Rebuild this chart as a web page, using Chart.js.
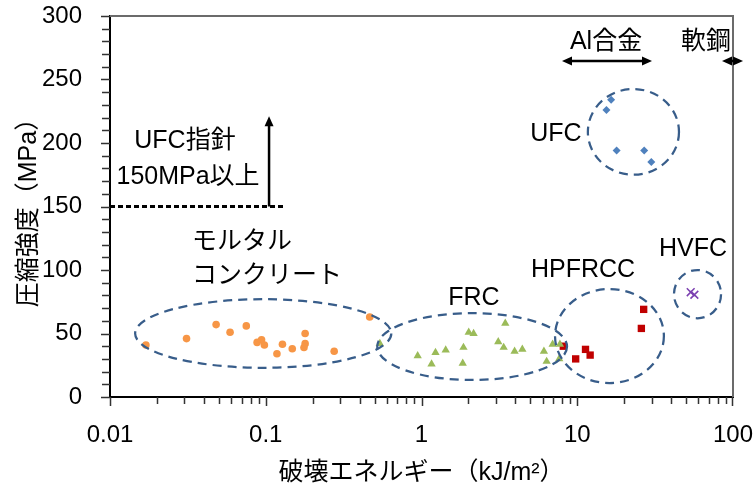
<!DOCTYPE html>
<html>
<head>
<meta charset="utf-8">
<script src="https://cdn.jsdelivr.net/npm/chart.js@4/dist/chart.umd.min.js"></script>
<style>
  html, body { margin: 0; padding: 0; background: #fff; }
  canvas { display: block; }
</style>
</head>
<body>
<canvas id="c" width="756" height="488"></canvas>
<script>
// Fracture energy (kJ/m²) vs compressive strength (MPa) for each material group
const seriesNames = ['モルタル・コンクリート', 'FRC', 'HPFRCC', 'UFC', 'HVFC'];

const mortarEnergy   = [0.017, 0.031, 0.048, 0.059, 0.075, 0.088, 0.094, 0.098, 0.118, 0.128, 0.148, 0.179, 0.179, 0.176, 0.275, 0.465];
const mortarStrength = [41, 46, 57, 51, 56, 43, 45, 41, 34, 41.5, 38, 50, 42, 39, 36, 63];

const frcEnergy   = [0.54, 0.945, 1.16, 1.23, 1.43, 1.86, 1.84, 2.01, 2.16, 3.45, 3.11, 3.37, 3.96, 4.44, 6.11, 6.36, 6.95, 7.74, 7.66];
const frcStrength = [42, 32.5, 26, 35, 37, 39, 26.5, 51, 50, 58, 43.5, 39, 36, 37.5, 36, 28, 41.5, 41.5, 30];

const hpfrccEnergy   = [8.14, 9.77, 11.3, 12.1, 26.7, 25.8];
const hpfrccStrength = [40, 30, 37.5, 33, 69, 54];

const ufcEnergy   = [16.5, 15.4, 17.9, 26.9, 29.9];
const ufcStrength = [234, 226, 194, 194, 185];

const hvfcEnergy   = [53.5, 56.5];
const hvfcStrength = [82.5, 80.5];

// Axis ticks
const xTickValues = [0.01, 0.1, 1, 10, 100];
const yTickValues = [0, 50, 100, 150, 200, 250, 300];

// UFC guideline threshold (MPa)
const ufcGuideline = 150;

const toPoints = (xs, ys) => xs.map((x, i) => ({ x: x, y: ys[i] }));

const FONT = "'Liberation Sans', 'Noto Sans CJK JP', sans-serif";
const GROUP_COLOR = '#385D8A';

// Group outlines, given as data-space bounds [xMin, xMax, yMin, yMax]
const groupOutlines = [
  [0.0145, 0.64, 23, 77],
  [0.52, 8.6, 13.4, 66],
  [7.2, 36, 11, 85],
  [41.8, 83.8, 62, 100],
  [11.7, 45, 175, 242.5]
];

// Text annotations: [text, x, y, align]
const annotations = [
  ['UFC指針', 0.0303, 201.6, 'center'],
  ['150MPa以上', 0.0317, 173.2, 'center'],
  ['モルタル', 0.0336, 122, 'left'],
  ['コンクリート', 0.0336, 95.3, 'left'],
  ['FRC', 2.17, 78, 'center'],
  ['HPFRCC', 10.9, 100, 'center'],
  ['HVFC', 55.3, 116.5, 'center'],
  ['UFC', 7.3, 207, 'center'],
  ['Al合金', 15.3, 279.5, 'center'],
  ['軟鋼', 67.1, 279.5, 'center']
];

// Range arrows along x at a given y: [xFrom, xTo, y]
const rangeArrows = [
  [7.98, 30.2, 264.6],
  [85, 116, 264.6]
];

function arrowHead(ctx, x, y, angle, len, half) {
  ctx.save();
  ctx.translate(x, y);
  ctx.rotate(angle);
  ctx.beginPath();
  ctx.moveTo(0, 0);
  ctx.lineTo(-len, -half);
  ctx.lineTo(-len, half);
  ctx.closePath();
  ctx.fill();
  ctx.restore();
}

const decorations = {
  id: 'decorations',
  afterDatasetsDraw(chart) {
    const { ctx, chartArea: a, scales: { x, y } } = chart;
    ctx.save();

    // frame on top and right
    ctx.strokeStyle = '#6b6b6b';
    ctx.lineWidth = 2;
    ctx.beginPath();
    ctx.moveTo(a.left, a.top);
    ctx.lineTo(a.right, a.top);
    ctx.lineTo(a.right, a.bottom);
    ctx.stroke();

    // tick marks (outside)
    ctx.strokeStyle = '#333';
    ctx.lineWidth = 1.5;
    ctx.beginPath();
    for (let v = 0; v <= 300; v += 10) {
      const py = Math.round(y.getPixelForValue(v)) + 0.5;
      const len = v % 50 === 0 ? 9 : 8;
      ctx.moveTo(a.left - len, py);
      ctx.lineTo(a.left, py);
    }
    for (let d = 0.01; d < 100; d *= 10) {
      for (let k = 1; k <= 9; k++) {
        const px = Math.round(x.getPixelForValue(d * k)) + 0.5;
        ctx.moveTo(px, a.bottom);
        ctx.lineTo(px, a.bottom + (k === 1 ? 9 : 7));
      }
    }
    const pr = Math.round(x.getPixelForValue(100)) - 0.5;
    ctx.moveTo(pr, a.bottom);
    ctx.lineTo(pr, a.bottom + 9);
    ctx.stroke();

    // group outlines
    ctx.strokeStyle = GROUP_COLOR;
    ctx.lineWidth = 2.25;
    ctx.setLineDash([9, 6]);
    groupOutlines.forEach(([x0, x1, y0, y1]) => {
      const l = x.getPixelForValue(x0), r = x.getPixelForValue(x1);
      const t = y.getPixelForValue(y1), b = y.getPixelForValue(y0);
      ctx.beginPath();
      ctx.ellipse((l + r) / 2, (t + b) / 2, (r - l) / 2, (b - t) / 2, 0, 0, Math.PI * 2);
      ctx.stroke();
    });

    // UFC guideline: dashed line with upward arrow
    const gy = y.getPixelForValue(ufcGuideline);
    ctx.strokeStyle = '#000';
    ctx.fillStyle = '#000';
    ctx.lineWidth = 3;
    ctx.setLineDash([5, 3]);
    ctx.beginPath();
    ctx.moveTo(a.left, gy);
    ctx.lineTo(x.getPixelForValue(0.133), gy);
    ctx.stroke();
    ctx.setLineDash([]);
    ctx.lineWidth = 2.5;
    const ax = x.getPixelForValue(0.105);
    const aTop = y.getPixelForValue(221);
    ctx.beginPath();
    ctx.moveTo(ax, gy);
    ctx.lineTo(ax, aTop + 8);
    ctx.stroke();
    arrowHead(ctx, ax, aTop, -Math.PI / 2, 10, 4.5);

    // range arrows
    rangeArrows.forEach(([x0, x1, yv]) => {
      const l = x.getPixelForValue(x0), r = x.getPixelForValue(x1), py = y.getPixelForValue(yv);
      ctx.beginPath();
      ctx.moveTo(l + 8, py);
      ctx.lineTo(r - 8, py);
      ctx.stroke();
      arrowHead(ctx, l, py, Math.PI, 10, 4.5);
      arrowHead(ctx, r, py, 0, 10, 4.5);
    });

    // text annotations
    ctx.font = '25px ' + FONT;
    ctx.textBaseline = 'middle';
    annotations.forEach(([text, xv, yv, align]) => {
      ctx.textAlign = align;
      ctx.fillText(text, x.getPixelForValue(xv), y.getPixelForValue(yv));
    });

    ctx.restore();
  }
};

new Chart(document.getElementById('c'), {
  type: 'scatter',
  data: {
    datasets: [
      { label: seriesNames[0], data: toPoints(mortarEnergy, mortarStrength), pointStyle: 'circle', pointRadius: 3.8, backgroundColor: '#F79646', borderWidth: 0 },
      { label: seriesNames[1], data: toPoints(frcEnergy, frcStrength), pointStyle: 'triangle', pointRadius: 4.8, backgroundColor: '#9BBB59', borderWidth: 0 },
      { label: seriesNames[2], data: toPoints(hpfrccEnergy, hpfrccStrength), pointStyle: 'rect', pointRadius: 5.2, backgroundColor: '#C00000', borderWidth: 0 },
      { label: seriesNames[3], data: toPoints(ufcEnergy, ufcStrength), pointStyle: 'rectRot', pointRadius: 4, backgroundColor: '#4F81BD', borderWidth: 0 },
      { label: seriesNames[4], data: toPoints(hvfcEnergy, hvfcStrength), pointStyle: 'crossRot', pointRadius: 5.5, borderColor: '#7B3FB0', borderWidth: 1.5 }
    ]
  },
  options: {
    responsive: false,
    animation: false,
    devicePixelRatio: 1,
    layout: { padding: { top: 16, right: 23, left: 0, bottom: 0 } },
    plugins: { legend: { display: false }, tooltip: { enabled: false } },
    scales: {
      x: {
        type: 'logarithmic',
        min: 0.01,
        max: 100,
        afterBuildTicks(scale) { scale.ticks = xTickValues.map(v => ({ value: v })); },
        afterFit(scale) {
          scale.height = 91;
          scale.paddingLeft = 0;
          scale.paddingRight = 0;
        },
        grid: { display: false, drawTicks: false },
        border: { display: true, color: '#000', width: 2 },
        ticks: {
          color: '#000',
          font: { family: FONT, size: 24 },
          padding: 24,
          maxRotation: 0,
          autoSkip: false,
          callback: v => String(v)
        },
        title: {
          display: true,
          text: '破壊エネルギー（kJ/m²）',
          color: '#000',
          font: { family: FONT, size: 25 },
          padding: { top: 0, bottom: 0 }
        }
      },
      y: {
        min: 0,
        max: 300,
        afterBuildTicks(scale) { scale.ticks = yTickValues.map(v => ({ value: v })); },
        afterFit(scale) {
          scale.width = 110;
          scale.paddingTop = 0;
          scale.paddingBottom = 0;
        },
        grid: { display: false, drawTicks: false },
        border: { display: true, color: '#000', width: 2 },
        ticks: {
          color: '#000',
          font: { family: FONT, size: 24 },
          padding: 28,
          autoSkip: false
        },
        title: {
          display: true,
          text: '圧縮強度（MPa）',
          color: '#000',
          font: { family: FONT, size: 25 },
          padding: { top: 14, bottom: 0 }
        }
      }
    }
  },
  plugins: [decorations]
});
</script>
</body>
</html>
